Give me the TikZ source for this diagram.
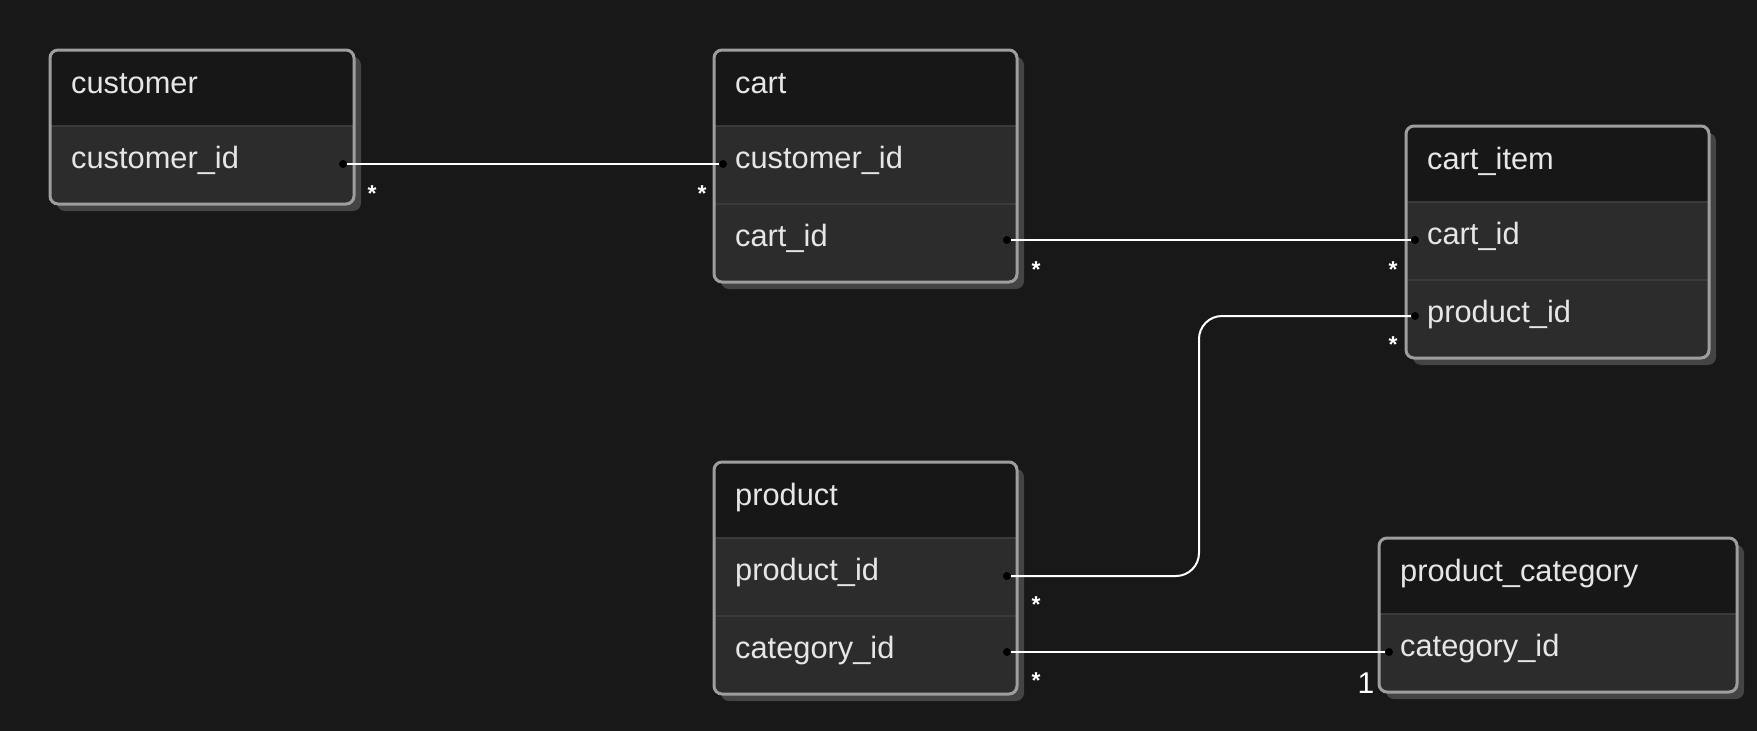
\documentclass[tikz,border=0pt]{standalone}
\usepackage{fontspec}
\setmainfont{Liberation Sans}
\definecolor{bgc}{HTML}{181818}
\definecolor{headc}{HTML}{171717}
\definecolor{rowc}{HTML}{2C2C2C}
\definecolor{borderc}{HTML}{9E9E9E}
\definecolor{shadowc}{HTML}{444444}
\definecolor{sepc}{HTML}{3A3A3A}
\definecolor{txtc}{HTML}{E6E6E6}
\newcommand\ertable[5]{% L R T B separators list
  \fill[shadowc, rounded corners=8] (#1+7,#3+7) rectangle (#2+7,#4+7);
  \begin{scope}
    \clip[rounded corners=8] (#1,#3) rectangle (#2,#4);
    \fill[rowc] (#1,#3) rectangle (#2,#4);
    \fill[headc] (#1,#3) rectangle (#2,#3+76);
    \foreach \s in {#5} {\draw[sepc, line width=2] (#1,\s) -- (#2,\s);}
  \end{scope}
  \draw[borderc, line width=3, rounded corners=8] (#1,#3) rectangle (#2,#4);
}
\tikzset{
  txt/.style={text=txtc, font=\fontsize{30.8}{36}\selectfont, inner sep=0, anchor=base west},
  conn/.style={draw=white, line width=2},
  dotc/.style={fill=black},
  card/.style={text=white, font=\bfseries\fontsize{23}{28}\selectfont, inner sep=0, anchor=base},
  cardone/.style={text=white, font=\fontsize{30}{34}\selectfont, inner sep=0, anchor=base},
}
\begin{document}
\begin{tikzpicture}[x=1pt, y=-1pt]
\useasboundingbox (0,0) rectangle (1757,731);
\fill[bgc] (0,0) rectangle (1757,731);

% tables
\ertable{50}{354}{50}{204}{126}
\ertable{714}{1017}{50}{282}{126,204}
\ertable{1406}{1709}{126}{358}{202,280}
\ertable{714}{1017}{462}{694}{538,616}
\ertable{1379}{1737}{538}{692}{614}

% texts
\node[txt] (customer) at (71,93) {customer};
\node[txt] (customer-cid) at (71,168) {customer\_id};
\node[txt] (cart) at (735,93) {cart};
\node[txt] (cart-cid) at (735,168) {customer\_id};
\node[txt] (cart-id) at (735,246) {cart\_id};
\node[txt] (cartitem) at (1427,169) {cart\_item};
\node[txt] (cartitem-cid) at (1427,244) {cart\_id};
\node[txt] (cartitem-pid) at (1427,322) {product\_id};
\node[txt] (product) at (735,505) {product};
\node[txt] (product-pid) at (735,580) {product\_id};
\node[txt] (product-catid) at (735,658) {category\_id};
\node[txt] (pcat) at (1400,581) {product\_category};
\node[txt] (pcat-catid) at (1400,656) {category\_id};

% dot coordinates
\coordinate (c1) at (343,164);
\coordinate (c2) at (723,164);
\coordinate (d1) at (1007,240);
\coordinate (d2) at (1415,240);
\coordinate (e1) at (1007,576);
\coordinate (e2) at (1415,316);
\coordinate (f1) at (1007,652);
\coordinate (f2) at (1389,652);
\coordinate (bend) at (1199,446);

% connectors
\draw[conn] (c1) -- (c2);
\draw[conn] (d1) -- (d2);
\draw[conn, rounded corners=23] (e1) -- (e1 -| bend) -- (e2 -| bend) -- (e2);
\draw[conn] (f1) -- (f2);
\foreach \p in {c1,c2,d1,d2,e1,e2,f1,f2} {\fill[dotc] (\p) circle (4);}

% cardinalities
\node[card] (s1) at (372,201) {*};
\node[card] (s2) at (702,201) {*};
\node[card] (s3) at (1036,277) {*};
\node[card] (s4) at (1393,277) {*};
\node[card] (s5) at (1393,352) {*};
\node[card] (s6) at (1036,612) {*};
\node[card] (s7) at (1036,688) {*};
\node[cardone] (one) at (1366,693) {1};
\end{tikzpicture}
\end{document}
